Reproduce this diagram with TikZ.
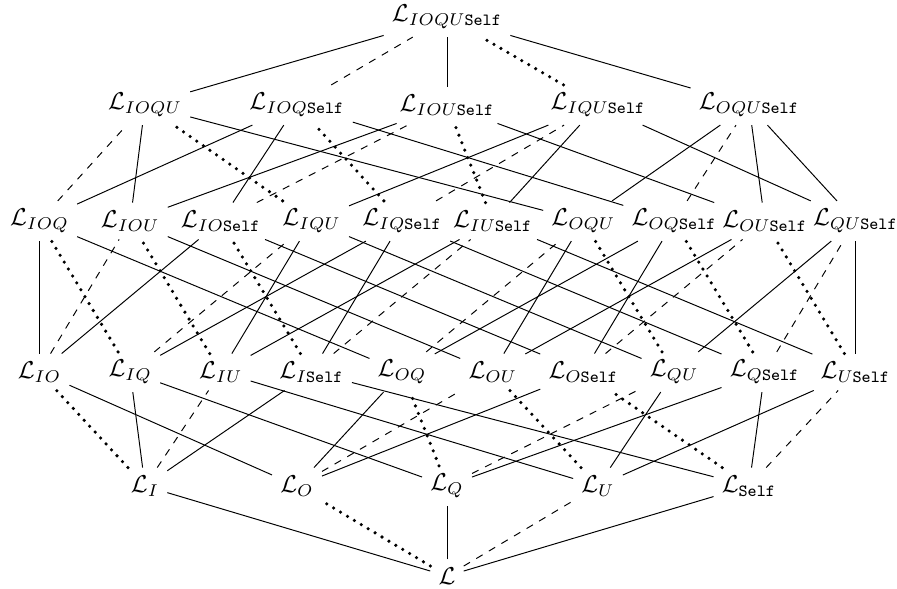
\documentclass[tikz,border=0pt]{standalone}
\begin{document}
\begin{tikzpicture}[x=0.41pt,y=-0.41pt,
  lat/.style={inner sep=3.2pt},
  eS/.style={line width=0.4pt},
  eO/.style={line width=1.45pt,dash pattern=on 0pt off 3.3pt,line cap=round},
  eU/.style={line width=0.4pt,dash pattern=on 3pt off 3pt}]
\useasboundingbox (0,0) rectangle (897,589);
\newcommand{\Lsub}[1]{$\mathcal{L}_{#1}$}
\def\S{\mathtt{Self}}
% level 0
\node[lat] (n) at (447,576) {$\mathcal{L}$};
% level 1
\node[lat] (I) at (145,486) {\Lsub{I}};
\node[lat] (O) at (297,486) {\Lsub{O}};
\node[lat] (Q) at (447,486) {\Lsub{Q}};
\node[lat] (U) at (598,486) {\Lsub{U}};
\node[lat] (S) at (749,486) {\Lsub{\S}};
% level 2
\node[lat] (IO) at (39.5,372) {\Lsub{IO}};
\node[lat] (IQ) at (130.2,372) {\Lsub{IQ}};
\node[lat] (IU) at (220.8,372) {\Lsub{IU}};
\node[lat] (IS) at (311.5,372) {\Lsub{I\S}};
\node[lat] (OQ) at (402.1,372) {\Lsub{OQ}};
\node[lat] (OU) at (492.8,372) {\Lsub{OU}};
\node[lat] (OS) at (583.4,372) {\Lsub{O\S}};
\node[lat] (QU) at (674.1,372) {\Lsub{QU}};
\node[lat] (QS) at (764.7,372) {\Lsub{Q\S}};
\node[lat] (US) at (855.4,372) {\Lsub{U\S}};
% level 3
\node[lat] (IOQ) at (39.5,221) {\Lsub{IOQ}};
\node[lat] (IOU) at (130.2,221) {\Lsub{IOU}};
\node[lat] (IOS) at (220.8,221) {\Lsub{IO\S}};
\node[lat] (IQU) at (311.5,221) {\Lsub{IQU}};
\node[lat] (IQS) at (402.1,221) {\Lsub{IQ\S}};
\node[lat] (IUS) at (492.8,221) {\Lsub{IU\S}};
\node[lat] (OQU) at (583.4,221) {\Lsub{OQU}};
\node[lat] (OQS) at (674.1,221) {\Lsub{OQ\S}};
\node[lat] (OUS) at (764.7,221) {\Lsub{OU\S}};
\node[lat] (QUS) at (855.4,221) {\Lsub{QU\S}};
% level 4
\node[lat] (IOQU) at (145,105) {\Lsub{IOQU}};
\node[lat] (IOQS) at (297,105) {\Lsub{IOQ\S}};
\node[lat] (IOUS) at (447,105) {\Lsub{IOU\S}};
\node[lat] (IQUS) at (598,105) {\Lsub{IQU\S}};
\node[lat] (OQUS) at (749,105) {\Lsub{OQU\S}};
% level 5
\node[lat] (top) at (447,17) {\Lsub{IOQU\S}};
% solid edges (adding I, Q or Self)
\foreach \a/\b in {n/I,n/Q,n/S,
  I/IQ,I/IS,O/IO,O/OQ,O/OS,Q/IQ,Q/QS,U/IU,U/QU,U/US,S/IS,S/QS,
  IO/IOQ,IO/IOS,IQ/IQS,IU/IQU,IU/IUS,IS/IQS,OQ/IOQ,OQ/OQS,
  OU/IOU,OU/OQU,OU/OUS,OS/IOS,OS/OQS,QU/IQU,QU/QUS,QS/IQS,
  US/IUS,US/QUS,
  IOQ/IOQS,IOU/IOQU,IOU/IOUS,IOS/IOQS,IQU/IQUS,IUS/IQUS,
  OQU/IOQU,OQU/OQUS,OQS/IOQS,OUS/IOUS,OUS/OQUS,QUS/IQUS,QUS/OQUS,
  IOQU/top,IOUS/top,OQUS/top}
  \draw[eS] (\a) -- (\b);
% dotted edges (adding O)
\foreach \a/\b in {n/O,I/IO,Q/OQ,U/OU,S/OS,
  IQ/IOQ,IU/IOU,IS/IOS,QU/OQU,QS/OQS,US/OUS,
  IQU/IOQU,IQS/IOQS,IUS/IOUS,IQUS/top}
  \draw[eO] (\a) -- (\b);
% dashed edges (adding U)
\foreach \a/\b in {n/U,I/IU,O/OU,Q/QU,S/US,
  IO/IOU,IQ/IQU,IS/IUS,OQ/OQU,OS/OUS,QS/QUS,
  IOQ/IOQU,IOS/IOUS,IQS/IQUS,OQS/OQUS,IOQS/top}
  \draw[eU] (\a) -- (\b);
\end{tikzpicture}
\end{document}
